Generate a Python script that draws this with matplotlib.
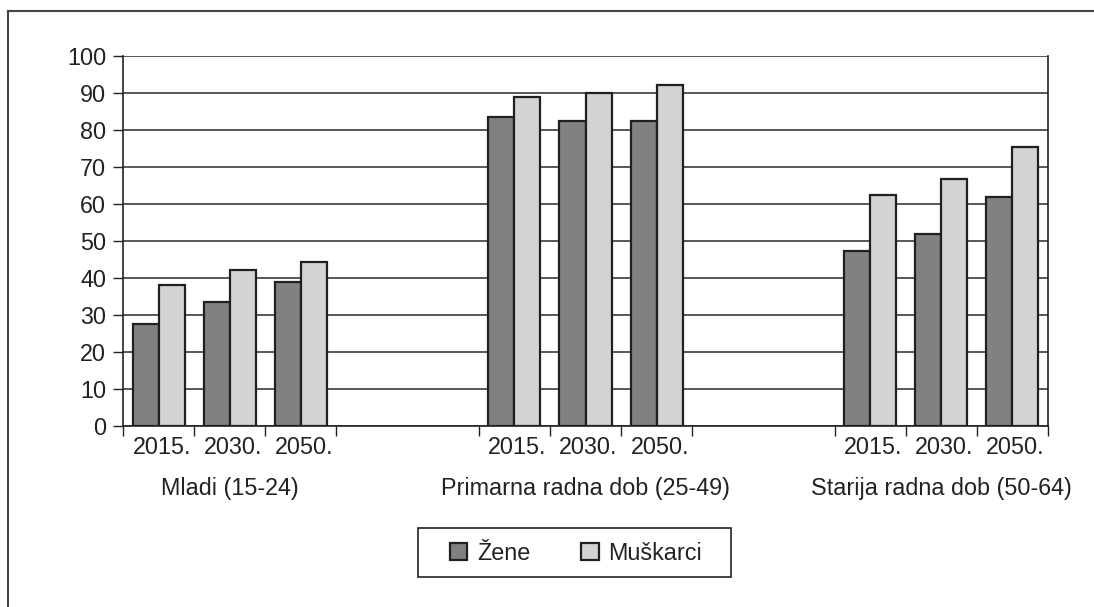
import matplotlib as mpl
import matplotlib.pyplot as plt
import numpy as np
from matplotlib.lines import Line2D
from matplotlib.patches import Rectangle, Patch
from matplotlib.transforms import offset_copy

# Data
groups = ['Mladi (15-24)', 'Primarna radna dob (25-49)', 'Starija radna dob (50-64)']
years = ['2015.', '2030.', '2050.']
zene = [[27.7, 33.6, 39.0],
        [83.4, 82.5, 82.5],
        [47.4, 51.8, 61.8]]
muskarci = [[38.2, 42.2, 44.2],
            [89.0, 90.0, 92.2],
            [62.5, 66.8, 75.4]]

plt.rcParams['font.family'] = ['Liberation Sans', 'DejaVu Sans']
plt.rcParams['font.size'] = 16.8

zene_color = '#808183'
musk_color = '#d2d3d5'
edge_color = '#231f20'

W, H = 1094, 607
fig = plt.figure(figsize=(W / 100, H / 100), dpi=100)
left, right, top, bottom = 123, 1048, 56, 426
ax = fig.add_axes([left / W, 1 - bottom / H, (right - left) / W, (bottom - top) / H])

slots_per_group = 5  # 3 years + 2 empty slots
bar_w = 0.366
for g in range(len(groups)):
    pos = g * slots_per_group + np.arange(len(years))
    ax.bar(pos - bar_w / 2, zene[g], width=bar_w, color=zene_color,
           edgecolor=edge_color, linewidth=1.6, zorder=3)
    ax.bar(pos + bar_w / 2, muskarci[g], width=bar_w, color=musk_color,
           edgecolor=edge_color, linewidth=1.6, zorder=3)

n_slots = slots_per_group * (len(groups) - 1) + len(years)
ax.set_xlim(-0.5, n_slots - 0.5)
ax.set_ylim(0, 100)
ax.yaxis.set_major_locator(mpl.ticker.MultipleLocator(10))
ax.yaxis.grid(True, color='#2a2a2a', linewidth=1.1, zorder=0)
ax.set_axisbelow(True)

# x ticks only at the boundaries of the year slots
bounds = []
for g in range(len(groups)):
    bounds += list(g * slots_per_group - 0.5 + np.arange(len(years) + 1))
ax.set_xticks(bounds)
ax.set_xticklabels([])
ax.tick_params(axis='x', direction='out', length=7, width=1, color='#222')
ax.tick_params(axis='y', direction='out', length=7, width=1, color='#222', pad=5,
               labelcolor='#222')

for s in ['left', 'right', 'bottom']:
    ax.spines[s].set_color('#222')
    ax.spines[s].set_linewidth(1.2)
ax.spines['top'].set_visible(False)

trans = ax.get_xaxis_transform()
year_trans = offset_copy(trans, fig=fig, x=3, y=0, units='dots')
for g, gname in enumerate(groups):
    for i, yr in enumerate(years):
        ax.text(g * slots_per_group + i, -22 / 370, yr, transform=year_trans,
                ha='center', va='center', color='#222')
    ax.text(g * slots_per_group + 1, -62 / 370, gname, transform=trans,
            ha='center', va='center', color='#222')

# legend
handles = [Patch(facecolor=zene_color, edgecolor=edge_color, linewidth=1.6, label='Žene'),
           Patch(facecolor=musk_color, edgecolor=edge_color, linewidth=1.6, label='Muškarci')]
fig.legend(handles=handles, loc='center', bbox_to_anchor=(576 / W, 1 - 553 / H), ncol=2,
           frameon=False, handlelength=0.75, handleheight=0.75, handletextpad=0.4,
           columnspacing=2.2, labelcolor='#222')
fig.add_artist(Rectangle((418 / W, 1 - 577 / H), (731 - 418) / W, (577 - 528) / H,
                         transform=fig.transFigure, fill=False, edgecolor='#222', linewidth=1.2))

# outer frame (top and left only)
fig.add_artist(Line2D([8 / W, 1], [1 - 11 / H, 1 - 11 / H], transform=fig.transFigure,
                      color='#444', linewidth=1.5))
fig.add_artist(Line2D([8 / W, 8 / W], [0, 1 - 11 / H], transform=fig.transFigure,
                      color='#444', linewidth=1.5))

plt.savefig('out.png', dpi=100)
